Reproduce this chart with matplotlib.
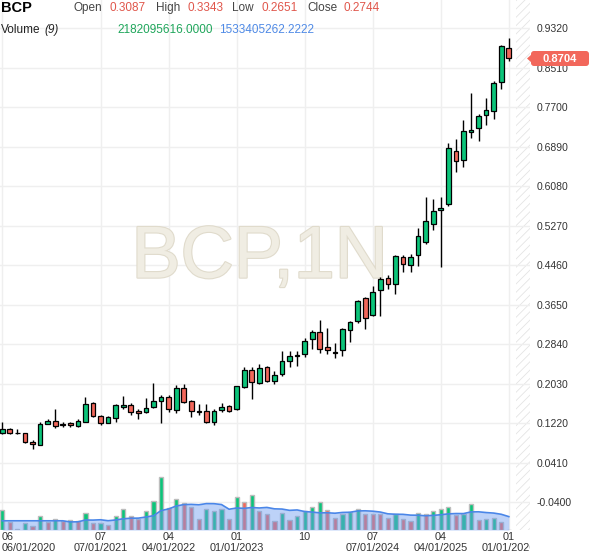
import numpy as np
import pandas as pd
import matplotlib
matplotlib.use("Agg")
import matplotlib.pyplot as plt
from matplotlib import patches, transforms
import matplotlib.patheffects as pe

plt.rcParams['font.family'] = ['Liberation Sans', 'DejaVu Sans']
plt.rcParams['hatch.linewidth'] = 0.6

# monthly candles, 06/2020 .. 01/2026
opens = [0.1011, 0.1093, 0.1022, 0.1011, 0.0839, 0.0778, 0.1208, 0.1257, 0.1202, 0.1223,
         0.1167, 0.1250, 0.1633, 0.1366, 0.1229, 0.1331, 0.1544, 0.1592, 0.1469, 0.1442,
         0.1544, 0.1667, 0.1750, 0.1489, 0.1934, 0.1674, 0.1469, 0.1469, 0.1237, 0.1483,
         0.1565, 0.1503, 0.1967, 0.2303, 0.2036, 0.2364, 0.2077, 0.2221, 0.2488, 0.2590,
         0.2631, 0.2938, 0.3087, 0.2774, 0.2672, 0.2713, 0.3123, 0.3307, 0.3779, 0.3430,
         0.3949, 0.4189, 0.4066, 0.4632, 0.4455, 0.4667, 0.4927, 0.5296, 0.5583, 0.5706,
         0.6792, 0.6608, 0.7188, 0.7264, 0.7530, 0.7612, 0.8207, 0.8904]
highs = [0.1237, 0.1114, 0.1099, 0.1015, 0.0874, 0.1243, 0.1311, 0.1503, 0.1243, 0.1237,
         0.1305, 0.1750, 0.1647, 0.1387, 0.1360, 0.1606, 0.1776, 0.1639, 0.1510, 0.1741,
         0.2036, 0.1797, 0.1797, 0.2002, 0.2016, 0.1684, 0.1606, 0.1606, 0.1516, 0.1626,
         0.1585, 0.1990, 0.2364, 0.2364, 0.2426, 0.2385, 0.2282, 0.2693, 0.2693, 0.2693,
         0.2959, 0.3123, 0.3343, 0.3164, 0.2856, 0.3164, 0.3313, 0.3738, 0.3812, 0.4025,
         0.4222, 0.4257, 0.4667, 0.4667, 0.4681, 0.5214, 0.5862, 0.5808, 0.5849, 0.6956,
         0.7045, 0.7434, 0.7988, 0.7557, 0.7879, 0.8234, 0.8965, 0.9109]
lows = [0.0997, 0.0991, 0.0991, 0.0806, 0.0696, 0.0765, 0.1196, 0.1126, 0.1147, 0.1147,
        0.1141, 0.1243, 0.1346, 0.1182, 0.1216, 0.1237, 0.1516, 0.1393, 0.1311, 0.1434,
        0.1536, 0.1216, 0.1454, 0.1421, 0.1633, 0.1340, 0.1393, 0.1223, 0.1188, 0.1454,
        0.1442, 0.1489, 0.1934, 0.1708, 0.2016, 0.2057, 0.2016, 0.2180, 0.2364, 0.2385,
        0.2569, 0.2746, 0.2651, 0.2631, 0.2549, 0.2590, 0.2889, 0.3279, 0.3156, 0.3416,
        0.3410, 0.3976, 0.3861, 0.4324, 0.4324, 0.4441, 0.4892, 0.5179, 0.4414, 0.5677,
        0.6374, 0.6477, 0.7059, 0.6997, 0.7338, 0.7460, 0.8076, 0.8650]
closes = [0.1093, 0.1011, 0.1011, 0.0827, 0.0792, 0.1202, 0.1264, 0.1155, 0.1175, 0.1175,
          0.1264, 0.1612, 0.1360, 0.1216, 0.1346, 0.1592, 0.1592, 0.1454, 0.1421, 0.1524,
          0.1667, 0.1750, 0.1503, 0.1934, 0.1659, 0.1462, 0.1456, 0.1237, 0.1469, 0.1544,
          0.1475, 0.1980, 0.2303, 0.2057, 0.2344, 0.2077, 0.2200, 0.2488, 0.2590, 0.2611,
          0.2897, 0.3082, 0.2744, 0.2713, 0.2662, 0.3143, 0.3287, 0.3717, 0.3369, 0.3902,
          0.4168, 0.4066, 0.4646, 0.4482, 0.4632, 0.5050, 0.5357, 0.5562, 0.5624, 0.6860,
          0.6587, 0.7209, 0.7229, 0.7510, 0.7639, 0.8199, 0.8951, 0.8704]
# volume in billions
volumes = [1.60, 0.66, 0.10, 0.58, 0.34, 1.10, 0.60, 0.84, 0.71, 0.79,
           0.74, 1.37, 0.53, 0.58, 0.42, 1.13, 1.68, 1.13, 0.84, 1.52,
           2.31, 4.15, 1.76, 2.47, 2.15, 1.84, 0.84, 1.68, 1.47, 1.68,
           0.84, 2.63, 2.23, 2.73, 1.52, 1.23, 0.68, 1.31, 0.76, 1.13,
           1.50, 1.84, 2.18, 1.58, 0.92, 1.23, 1.45, 1.68, 1.23, 1.23,
           1.23, 0.92, 1.29, 0.84, 0.68, 1.37, 1.29, 1.52, 1.68, 1.84,
           1.16, 1.26, 2.02, 0.76, 0.84, 0.92, 0.66, 0.03]
vol_up = [1, 0, 0, 1, 0, 1, 0, 1, 0, 1,
          0, 1, 0, 1, 0, 1, 1, 0, 0, 1,
          1, 1, 0, 1, 0, 0, 0, 1, 1, 1,
          0, 1, 0, 1, 0, 0, 0, 1, 0, 1,
          1, 1, 1, 0, 0, 1, 1, 1, 0, 0,
          0, 0, 1, 0, 0, 1, 0, 1, 1, 1,
          0, 1, 1, 0, 1, 1, 0, 0]

tick_idx = [0, 13, 22, 31, 40, 49, 58, 67]
tick_top = ['06', '07', '04', '01', '10', '07', '04', '01']
tick_bottom = ['06/01/2020', '07/01/2021', '04/01/2022', '01/01/2023', '',
               '07/01/2024', '04/01/2025', '01/01/2026']
price_ticks = [0.932, 0.851, 0.770, 0.689, 0.608, 0.527, 0.446, 0.365,
               0.284, 0.203, 0.122, 0.041, -0.040]
last_price = 0.8704

GREEN = '#0cc47a'
RED = '#f2675b'

o = np.array(opens); h = np.array(highs); l = np.array(lows); c = np.array(closes)
x = np.arange(len(o))
up = c >= o

fig = plt.figure(figsize=(6, 5.57), dpi=100)
fig.patch.set_facecolor('white')
ax = fig.add_axes([0, 27 / 557, 530 / 600, 530 / 557])
ax.set_xlim(-0.3, 69.8)
ax.set_ylim(-0.0971, 0.9894)

# watermark
ax.text(0.49, 0.513, 'BCP,1N', transform=ax.transAxes, fontsize=53,
        color='#f0ede3', ha='center', va='center', zorder=0.8,
        path_effects=[pe.withStroke(linewidth=1.6, foreground='#e0dbcc')])

# future hatched zone
ax.axvspan(67.9, 69.8, facecolor='white', edgecolor='#e4e4e4', hatch='////',
           linewidth=0, zorder=0.5)

# volume pane
axv = ax.twinx()
axv.set_ylim(0, 530 * 0.0788)
axv.set_axis_off()
vcol = [GREEN if u else RED for u in vol_up]
axv.bar(x, volumes, 0.55, color=vcol, edgecolor='#bdbdbd', linewidth=1.0, zorder=2)
ma = pd.Series(volumes).rolling(9).mean().bfill().values
axv.fill_between(x, 0, ma, color='#6e9cf0', alpha=0.45, linewidth=0, zorder=3)
axv.plot(x, ma, color='#4a86e8', lw=1.2, zorder=4)

# candles
ax.vlines(x, l, h, color='black', lw=1.0, zorder=3)
ax.bar(x, np.abs(c - o), 0.62, bottom=np.minimum(o, c),
       color=np.where(up, GREEN, RED), edgecolor='black', linewidth=0.9, zorder=4)

# grid / axes
ax.set_yticks(price_ticks)
ax.set_yticklabels([f'{v:.4f}' for v in price_ticks])
ax.yaxis.tick_right()
ax.tick_params(axis='y', length=0, pad=5, labelsize=7.5, labelcolor='#333333')
ax.set_xticks(tick_idx)
ax.tick_params(axis='x', length=0, labelbottom=False)
ax.grid(color='#efefef', lw=1.0, zorder=0)
ax.set_axisbelow(True)
for s in ax.spines.values():
    s.set_visible(False)

trans = transforms.blended_transform_factory(ax.transData, ax.transAxes)
clip = transforms.TransformedBbox(transforms.Bbox([[0, 0], [530 / 600, 1]]), fig.transFigure)
for i, (k, t1, t2) in enumerate(zip(tick_idx, tick_top, tick_bottom)):
    xx, ha = (k, 'center') if i > 0 else (-0.05, 'left')
    ax.text(xx, -7 / 530, t1, transform=trans, ha=ha, va='center',
            fontsize=7.8, color='#333333', clip_on=False)
    tb = ax.text(xx, -18 / 530, t2, transform=trans, ha=ha, va='center',
                 fontsize=7.8, color='#333333')
    tb.set_clip_box(clip)
    tb.set_clip_on(True)

# last price tag
ident = transforms.IdentityTransform()
fig.add_artist(patches.FancyBboxPatch((531, 491), 58, 15, boxstyle='round,pad=0,rounding_size=3',
                                      transform=ident, facecolor=RED, edgecolor='none'))
fig.add_artist(patches.Polygon([(532, 494), (527, 498.5), (532, 503)], closed=True,
                               transform=ident, facecolor=RED, edgecolor='none'))
fig.text(560, 498.5, f'{last_price:.4f}', transform=ident, ha='center', va='center',
         color='white', fontsize=8, fontweight='bold')

# header
def ftxt(px, py, s, **kw):
    fig.text(px / 600, 1 - py / 557, s, ha='left', va='center', **kw)

ftxt(1, 8, 'BCP', fontsize=10.5, fontweight='bold', color='black')
hdr = [(74, 'Open', 110, '0.3087'), (156, 'High', 187, '0.3343'),
       (232, 'Low', 262, '0.2651'), (307, 'Close', 344, '0.2744')]
for lx, lab, vx, val in hdr:
    ftxt(lx, 8, lab, fontsize=8.5, color='#444444')
    ftxt(vx, 8, val, fontsize=8.5, color='#e0564b')
ftxt(1, 30, 'Volume', fontsize=8.5, color='#222222')
ftxt(44, 30, '(9)', fontsize=8.5, color='#222222', style='italic')
ftxt(117, 30, '2182095616.0000', fontsize=8.5, color='#1fa65b')
ftxt(219, 30, '1533405262.2222', fontsize=8.5, color='#4f8ae6')

fig.savefig('out.png', dpi=100, facecolor='white')
